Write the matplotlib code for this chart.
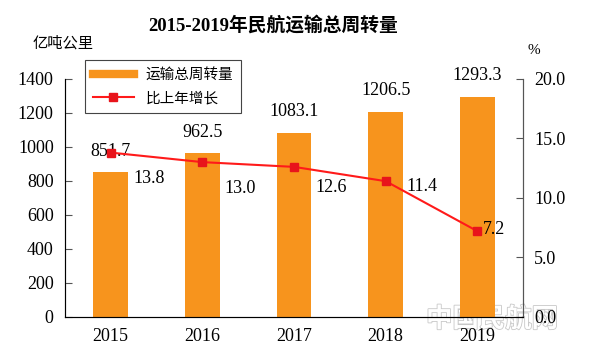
import matplotlib.pyplot as plt
import matplotlib.patheffects as pe
from matplotlib.lines import Line2D

plt.rcParams['font.family'] = ['Liberation Serif', 'Noto Sans CJK SC', 'DejaVu Sans']

years = ['2015', '2016', '2017', '2018', '2019']
volume = [851.7, 962.5, 1083.1, 1206.5, 1293.3]
growth = [13.8, 13.0, 12.6, 11.4, 7.2]
volume_labels = ['851.7', '962.5', '1083.1', '1206.5', '1293.3']
growth_labels = ['13.8', '13.0', '12.6', '11.4', '7.2']

bar_color = '#F7941D'
line_color = '#FF1A1A'
cjk = ['Noto Sans CJK SC', 'DejaVu Sans']

fig = plt.figure(figsize=(6, 3.63), dpi=100)
ax = fig.add_axes([0.108, 0.127, 0.764, 0.656])
ax.set_facecolor('none')
x = list(range(len(years)))

ax.bar(x, volume, width=0.38, color=bar_color, zorder=2)
ax.set_xlim(-0.5, 4.5)
ax.set_ylim(0, 1400)
ax.set_yticks(range(0, 1401, 200))
ax.set_xticks(x)
ax.set_xticklabels(years)
ax.tick_params(axis='y', direction='in', length=5, labelsize=13, pad=8, color='#555555')
ax.tick_params(axis='x', length=0, labelsize=13, pad=8)
ax.spines['top'].set_visible(False)
for s in ['left', 'bottom', 'right']:
    ax.spines[s].set_color('#555555')

for xi, v, lab in zip(x, volume, volume_labels):
    ax.annotate(lab, (xi, v), xytext=(0, 9), textcoords='offset points',
                ha='center', va='bottom', fontsize=13)

ax2 = ax.twinx()
ax2.set_facecolor('none')
ax2.set_ylim(0, 20)
ax2.set_yticks([0, 5, 10, 15, 20])
ax2.set_yticklabels(['0.0', '5.0', '10.0', '15.0', '20.0'])
ax2.tick_params(axis='y', direction='in', length=5, labelsize=13, pad=8, color='#555555')
ax2.spines['top'].set_visible(False)
ax2.spines['right'].set_color('#555555')
ax2.plot(x, growth, color=line_color, lw=1.5, marker='s', markersize=6,
         markerfacecolor='#E8141B', markeredgecolor='#E8141B', zorder=3)

offsets = [(28, -19), (27, -19), (27, -15), (26, -4), (12, 1)]
for xi, g, lab, off in zip(x, growth, growth_labels, offsets):
    ax2.annotate(lab, (xi, g), xytext=off, textcoords='offset points',
                 ha='center', va='center', fontsize=13)

handles = [Line2D([0], [0], color=bar_color, lw=6),
           Line2D([0], [0], color=line_color, lw=1.5, marker='s', markersize=6,
                  markerfacecolor='#E8141B', markeredgecolor='#E8141B')]
leg = ax.legend(handles, ['运输总周转量', '比上年增长'], loc='upper left',
                bbox_to_anchor=(0.028, 1.11), fancybox=False, framealpha=1,
                edgecolor='#444444', prop={'family': cjk, 'size': 10.5},
                handlelength=2.8, borderpad=0.55, labelspacing=0.65)
leg.get_frame().set_linewidth(0.8)

fig.text(0.455, 0.93, '2015-2019年民航运输总周转量', ha='center', va='center',
         fontsize=13.5, fontweight='bold')
fig.text(0.055, 0.882, '亿吨公里', ha='left', va='center', fontsize=11, family=cjk)
fig.text(0.88, 0.86, '%', ha='left', va='center', fontsize=11)

# watermark, drawn beneath the axes
fig.text(0.82, 0.12, '中国民航网', ha='center', va='center', fontsize=19,
         family=cjk, fontweight='bold', color='white', zorder=-1,
         path_effects=[pe.withStroke(linewidth=1.2, foreground='#C8C8C8')])

fig.savefig('out.png', dpi=100)
